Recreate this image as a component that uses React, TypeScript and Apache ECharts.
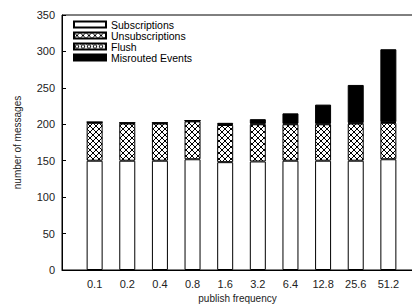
import React, { useEffect, useRef } from "react";
import * as echarts from "echarts";

const categories = ["", "0.1", "0.2", "0.4", "0.8", "1.6", "3.2", "6.4", "12.8", "25.6", "51.2", ""];
const subscriptions = [null, 150, 150, 150, 152, 148, 149, 150, 150, 150, 152, null];
const unsubscriptions = [null, 52, 51, 51, 52, 51, 51, 50, 50, 51, 50, null];
const flush = [null, 1, 1, 1, 1, 1, 1, 1, 1, 1, 1, null];
const misrouted = [null, 0, 0, 0, 0, 2, 6, 14, 26, 52, 100, null];
const yTicks = [0, 50, 100, 150, 200, 250, 300, 350];

function makePattern(kind: "cross" | "dots") {
  const c = document.createElement("canvas");
  c.width = 6;
  c.height = 6;
  const g = c.getContext("2d")!;
  g.fillStyle = "#fff";
  g.fillRect(0, 0, 6, 6);
  g.strokeStyle = "#000";
  g.lineWidth = 1;
  if (kind === "cross") {
    g.beginPath();
    g.moveTo(0, 0);
    g.lineTo(6, 6);
    g.moveTo(6, 0);
    g.lineTo(0, 6);
    g.stroke();
  } else {
    g.beginPath();
    g.arc(3, 3, 1.8, 0, Math.PI * 2);
    g.stroke();
    g.fillStyle = "#000";
    g.fillRect(0, 0, 1, 1);
  }
  return { image: c, repeat: "repeat" } as any;
}

export default function App() {
  const ref = useRef<HTMLDivElement>(null);
  useEffect(() => {
    document.body.style.margin = "0";
    const chart = echarts.init(ref.current!, null, { renderer: "svg" });
    const font = "Liberation Sans, Arial, sans-serif";
    const barW = 16;
    const common = {
      type: "bar",
      stack: "total",
      barWidth: barW,
      itemStyle: { borderColor: "#000", borderWidth: 1 },
    };
    chart.setOption({
      animation: false,
      textStyle: { fontFamily: font },
      grid: {
        left: 62, top: 15, right: -9, bottom: 37,
        outerBoundsMode: "none", containLabel: false,
        show: true, borderColor: "#000", borderWidth: 1, backgroundColor: "transparent",
      },
      legend: {
        orient: "vertical",
        left: 73,
        top: 19,
        padding: 0,
        itemWidth: 32,
        itemHeight: 6,
        itemGap: 0,
        icon: "rect",
        textStyle: { fontSize: 10.5, color: "#000", lineHeight: 10, fontFamily: font },
        data: ["Subscriptions", "Unsubscriptions", "Flush", "Misrouted Events"],
      },
      xAxis: {
        type: "category",
        data: categories,
        boundaryGap: false,
        axisLine: { lineStyle: { color: "#000" } },
        axisTick: { show: false },
        axisLabel: { fontSize: 11, color: "#222", margin: 8, interval: 0, fontFamily: font },
        name: "publish frequency",
        nameLocation: "middle",
        nameGap: 23,
        nameTextStyle: { fontSize: 10, color: "#222", fontFamily: font, padding: [0, 0, 0, -8] },
      },
      yAxis: {
        type: "value",
        min: 0,
        max: 350,
        interval: 50,
        axisLine: { show: true, lineStyle: { color: "#000" } },
        axisTick: { show: true, inside: true, length: 4, lineStyle: { color: "#000" } },
        splitLine: { show: false },
        axisLabel: { fontSize: 11, color: "#222", margin: 7, fontFamily: font, formatter: (v: number) => (yTicks.includes(v) ? String(v) : "") },
        name: "number of messages",
        nameLocation: "middle",
        nameGap: 40,
        nameTextStyle: { fontSize: 10, color: "#222", fontFamily: font },
      },
      series: [
        { ...common, name: "Subscriptions", data: subscriptions, itemStyle: { color: "#fff", borderColor: "#000", borderWidth: 1 } },
        { ...common, name: "Unsubscriptions", data: unsubscriptions, itemStyle: { color: makePattern("cross"), borderColor: "#000", borderWidth: 1 } },
        { ...common, name: "Flush", data: flush, itemStyle: { color: makePattern("dots"), borderColor: "#000", borderWidth: 1 } },
        { ...common, name: "Misrouted Events", data: misrouted, itemStyle: { color: "#000", borderColor: "#000", borderWidth: 1 } },
      ],
    });
    return () => chart.dispose();
  }, []);
  return <div ref={ref} style={{ position: "absolute", left: 0, top: 0, width: 412, height: 307 }} />;
}
